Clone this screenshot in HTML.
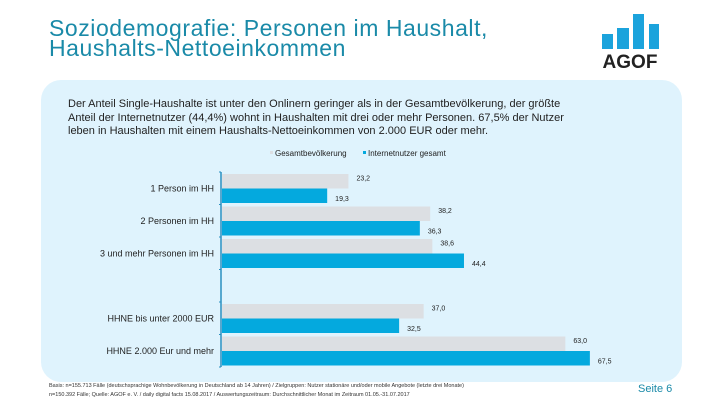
<!DOCTYPE html>
<html><head><meta charset="utf-8"><style>
body{margin:0;width:720px;height:405px;background:#fff;position:relative;overflow:hidden;font-family:"Liberation Sans",sans-serif}
.abs{position:absolute}
</style></head><body>
<div class="abs" style="left:49px;top:18px;font-size:23px;line-height:20px;letter-spacing:0.55px;color:#1a8aa8">Soziodemografie: Personen im Haushalt,<br>Haushalts-Nettoeinkommen</div>
<svg class="abs" style="left:590px;top:5px" width="80" height="75">
<rect x="12" y="29" width="11" height="15" fill="#1ba3dc"/><rect x="27" y="23" width="12" height="21" fill="#1ba3dc"/><rect x="43" y="9" width="11" height="35" fill="#1ba3dc"/><rect x="59" y="19" width="10" height="25" fill="#1ba3dc"/>
<text x="40" y="63" text-anchor="middle" font-family="Liberation Sans" font-weight="bold" font-size="19" fill="#222">AGOF</text></svg>
<div class="abs" style="left:41px;top:80px;width:641px;height:302px;background:#dff3fd;border-radius:20px"></div>
<div class="abs" style="left:68px;top:98px;font-size:11px;line-height:13.5px;color:#222;width:530px">Der Anteil Single-Haushalte ist unter den Onlinern geringer als in der Gesamtbevölkerung, der größte<br>Anteil der Internetnutzer (44,4%) wohnt in Haushalten mit drei oder mehr Personen. 67,5% der Nutzer<br>leben in Haushalten mit einem Haushalts-Nettoeinkommen von 2.000 EUR oder mehr.</div>
<svg id="chart" class="abs" style="left:0;top:0" width="720" height="405"></svg>
<div class="abs" style="left:49px;top:382px;font-size:5.5px;line-height:9px;color:#333">Basis: n=155.713 Fälle (deutschsprachige Wohnbevölkerung in Deutschland ab 14 Jahren) / Zielgruppen: Nutzer stationäre und/oder mobile Angebote (letzte drei Monate)<br>n=150.392 Fälle; Quelle: AGOF e. V. / daily digital facts 15.08.2017 / Auswertungszeitraum: Durchschnittlicher Monat im Zeitraum 01.05.-31.07.2017</div>
<div class="abs" style="left:638px;top:383px;font-size:11px;color:#1a8aa8">Seite 6</div>
<script>
const categories=["1 Person im HH","2 Personen im HH","3 und mehr Personen im HH","","HHNE bis unter 2000 EUR","HHNE 2.000 Eur und mehr"];
const gesamt=[23.2,38.2,38.6,null,37.0,63.0];
const internet=[19.3,36.3,44.4,null,32.5,67.5];
const seriesNames=["Gesamtbevölkerung","Internetnutzer gesamt"];
const colors=["#dcdfe3","#04a9de"];
const svg=document.getElementById('chart');const NS="http://www.w3.org/2000/svg";
const x0=222,pxPer=5.45,y0=172,slot=32.5,bh=14.5;
const xs=v=>x0+v*pxPer;
function mk(t,a){const e=document.createElementNS(NS,t);for(const k in a)e.setAttribute(k,a[k]);svg.appendChild(e);return e;}
const ax=mk('line',{x1:x0-1,x2:x0-1,y1:y0,y2:y0+slot*categories.length,stroke:'#2a8fc0','stroke-width':1.5});

for(let i=0;i<=categories.length;i++){const t=mk('line',{x1:x0-3,x2:x0-1,y1:y0+i*slot,y2:y0+i*slot,stroke:'#2a8fc0'});
}
const fmt=v=>v.toFixed(1).replace('.',',');
categories.forEach((c,i)=>{
 const top=y0+i*slot+2;
 if(c){const l=mk('text',{x:214,y:y0+i*slot+slot/2+3,'text-anchor':'end','font-size':9,fill:'#222'});l.textContent=c;
 }
 [gesamt,internet].forEach((s,j)=>{if(s[i]==null)return;
  const y=top+j*bh;
  const r=mk('rect',{x:x0,y:y,width:xs(s[i])-x0,height:bh,fill:colors[j]});
  
  const t=mk('text',{x:xs(s[i])+8,y:y+bh/2+(j?5:-1),'font-size':7,fill:'#222'});t.textContent=fmt(s[i]);
  });
});
let lx=270;seriesNames.forEach((n,j)=>{
 const r=mk('rect',{x:lx,y:151,width:3,height:3,fill:colors[j]});
 
 const t=mk('text',{x:lx+5,y:156,'font-size':8,fill:'#222'});t.textContent=n;
 
 lx+=j?0:93;});
</script>
</body></html>
